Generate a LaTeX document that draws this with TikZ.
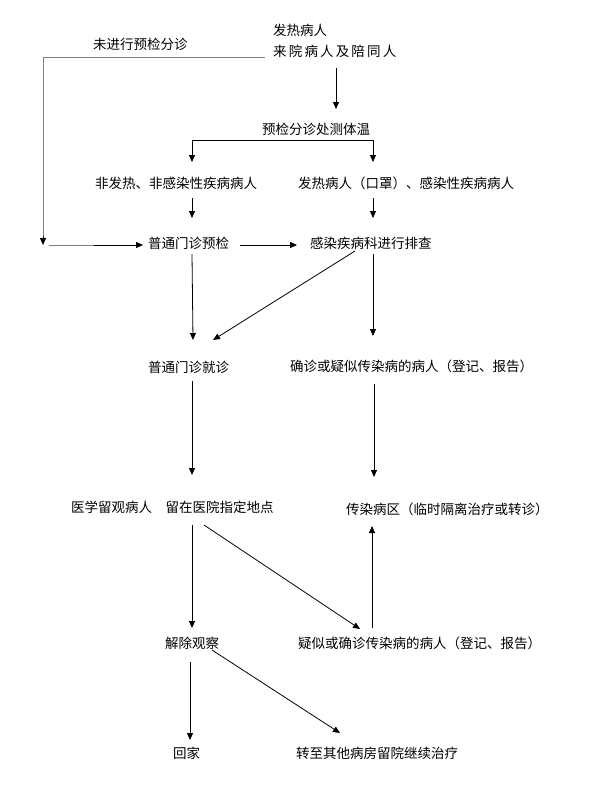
\documentclass[tikz,border=0pt]{standalone}
\usepackage{fontspec}
\setmainfont{Noto Sans CJK SC}
\newfontfamily\widecjk[LetterSpace=16]{Noto Sans CJK SC}
\usetikzlibrary{arrows.meta}
\begin{document}
\begin{tikzpicture}[x=1pt,y=-1pt,
  lbl/.style={anchor=west,inner sep=0pt,font=\fontsize{13.5}{15}\selectfont},
  arr/.style={-{Triangle[length=7pt,width=6pt]},line width=0.8pt,black},
  grayln/.style={line width=1pt,gray}]
\useasboundingbox[fill=white] (0,0) rectangle (601,795);
% text nodes
\node[lbl] (t1) at (273,30) {发热病人};
\node[lbl,font=\fontsize{13.5}{15}\widecjk] (t2) at (273,51) {来院病人及陪同人};
\node[lbl] (nolab) at (93,44) {未进行预检分诊};
\node[lbl] (tw) at (262,129) {预检分诊处测体温};
\node[lbl] (a1) at (95,183) {非发热、非感染性疾病病人};
\node[lbl] (b1) at (298,183) {发热病人（口罩）、感染性疾病病人};
\node[lbl] (a2) at (148,243) {普通门诊预检};
\node[lbl] (b2) at (310,243) {感染疾病科进行排查};
\node[lbl] (a3) at (148,367) {普通门诊就诊};
\node[lbl] (b3) at (290,366) {确诊或疑似传染病的病人（登记、报告）};
\node[lbl] (a4) at (71,507) {医学留观病人　留在医院指定地点};
\node[lbl] (b4) at (346,509) {传染病区（临时隔离治疗或转诊）};
\node[lbl] (a5) at (165,643) {解除观察};
\node[lbl] (b5) at (298,643) {疑似或确诊传染病的病人（登记、报告）};
\node[lbl] (a6) at (173,753) {回家};
\node[lbl] (b6) at (296,753) {转至其他病房留院继续治疗};
% coordinates
\coordinate (g1) at (265,57);
\coordinate (g2) at (43,57);
\coordinate (g3) at (43,245);
\coordinate (g4) at (43,236);
\coordinate (s1) at (336,68);
\coordinate (e1) at (336,109);
\coordinate (br1) at (192,140);
\coordinate (br2) at (373,140);
\coordinate (ba1) at (192,162);
\coordinate (bb1) at (373,162);
\coordinate (sa1) at (192,198);
\coordinate (ea1) at (192,218);
\coordinate (sb1) at (373,198);
\coordinate (eb1) at (373,218);
\coordinate (l1) at (49,245);
\coordinate (l1b) at (94,245);
\coordinate (l2) at (143,245);
\coordinate (m1) at (240,245);
\coordinate (m2) at (297,245);
\coordinate (sa2) at (192,254);
\coordinate (ea2) at (193,340);
\coordinate (sd1) at (355,251);
\coordinate (ed1) at (213,340);
\coordinate (sb2) at (373,254);
\coordinate (eb2) at (373,336);
\coordinate (sa3) at (192,381);
\coordinate (ea3) at (192,475);
\coordinate (sb3) at (374,384);
\coordinate (eb3) at (374,477);
\coordinate (sa4) at (192,525);
\coordinate (ea4) at (192,628);
\coordinate (sd2) at (204,525);
\coordinate (ed2) at (360,629);
\coordinate (su) at (372,628);
\coordinate (eu) at (372,526);
\coordinate (sa5) at (190,662);
\coordinate (ea5) at (190,740);
\coordinate (sd3) at (212,650);
\coordinate (ed3) at (340,733);
% connectors
\draw[grayln] (g1) -- (g2) -- (g4);
\draw[arr] (g4) -- (g3);
\draw[arr] (s1) -- (e1);
\draw[line width=0.8pt] (br1) -- (br2);
\draw[arr] (br1) -- (ba1);
\draw[arr] (br2) -- (bb1);
\draw[arr] (sa1) -- (ea1);
\draw[arr] (sb1) -- (eb1);
\draw[line width=0.8pt,gray] (l1) -- (l1b);
\draw[arr] (l1b) -- (l2);
\draw[arr] (m1) -- (m2);
\draw[arr] (sa2) -- (ea2);
\draw[arr] (sd1) -- (ed1);
\draw[arr] (sb2) -- (eb2);
\draw[arr] (sa3) -- (ea3);
\draw[arr] (sb3) -- (eb3);
\draw[arr] (sa4) -- (ea4);
\draw[arr] (sd2) -- (ed2);
\draw[arr] (su) -- (eu);
\draw[arr] (sa5) -- (ea5);
\draw[arr] (sd3) -- (ed3);
\end{tikzpicture}
\end{document}
